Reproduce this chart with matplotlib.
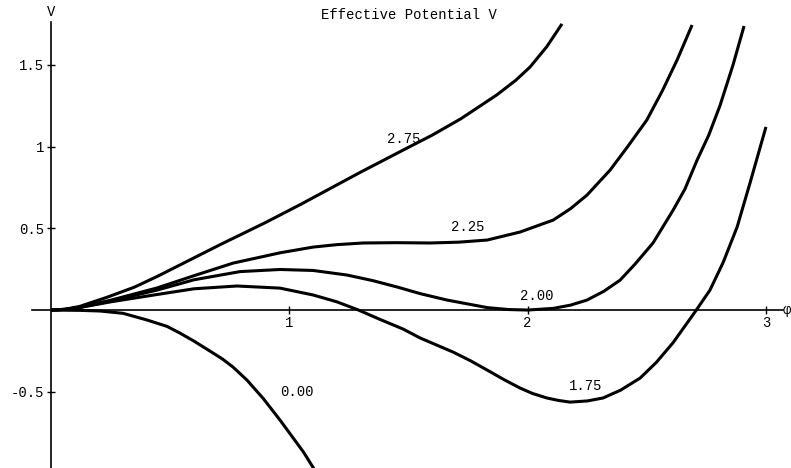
import matplotlib
matplotlib.use("Agg")
import matplotlib.pyplot as plt

plt.rcParams['font.family'] = ['Liberation Mono', 'DejaVu Sans Mono', 'DejaVu Sans']

# curves, phi vs V, one per parameter value
phi_275 = [0, 0.06, 0.12, 0.235, 0.35, 0.445, 0.71, 0.9, 1.05, 1.3, 1.48, 1.6, 1.72, 1.87,
           1.95, 2.01, 2.08, 2.144]
V_275 = [0, 0.005, 0.022, 0.078, 0.14, 0.205, 0.40, 0.535, 0.648, 0.844, 0.98, 1.07, 1.17, 1.315,
         1.405, 1.486, 1.61, 1.75]

phi_225 = [0, 0.06, 0.12, 0.25, 0.445, 0.6, 0.764, 0.961, 1.1, 1.2, 1.31, 1.45, 1.59, 1.71,
           1.83, 1.968, 2.107, 2.18, 2.249, 2.346, 2.42, 2.5, 2.565, 2.627, 2.69]
V_225 = [0, 0.004, 0.018, 0.06, 0.135, 0.21, 0.287, 0.35, 0.385, 0.40, 0.41, 0.412, 0.41, 0.415,
         0.428, 0.477, 0.55, 0.62, 0.703, 0.856, 1.0, 1.162, 1.34, 1.529, 1.743]

phi_200 = [0, 0.06, 0.12, 0.25, 0.445, 0.6, 0.793, 0.961, 1.1, 1.242, 1.35, 1.452, 1.55, 1.662,
           1.83, 1.92, 2.0, 2.107, 2.18, 2.249, 2.32, 2.388, 2.45, 2.526, 2.61, 2.66, 2.711,
           2.76, 2.807, 2.862, 2.908]
V_200 = [0, 0.004, 0.016, 0.055, 0.122, 0.185, 0.235, 0.248, 0.242, 0.214, 0.18, 0.141, 0.10, 0.061,
         0.015, 0.003, 0, 0.01, 0.03, 0.061, 0.115, 0.183, 0.28, 0.41, 0.61, 0.74, 0.917,
         1.07, 1.25, 1.5, 1.737]

phi_175 = [0, 0.06, 0.12, 0.25, 0.445, 0.6, 0.78, 0.961, 1.1, 1.2, 1.29, 1.38, 1.477, 1.549,
           1.687, 1.76, 1.83, 1.9, 1.968, 2.02, 2.081, 2.13, 2.178, 2.25, 2.316, 2.39, 2.472,
           2.54, 2.61, 2.703, 2.765, 2.82, 2.879, 2.933, 3.0]
V_175 = [0, 0.004, 0.015, 0.05, 0.095, 0.13, 0.147, 0.134, 0.092, 0.05, 0, -0.057, -0.116, -0.171,
         -0.257, -0.31, -0.367, -0.425, -0.477, -0.51, -0.538, -0.553, -0.563, -0.556, -0.538, -0.49, -0.416,
         -0.32, -0.20, -0.01, 0.122, 0.29, 0.508, 0.777, 1.12]

phi_000 = [0, 0.122, 0.206, 0.302, 0.403, 0.487, 0.541, 0.6, 0.68, 0.72, 0.764, 0.822, 0.89,
           0.961, 1.03, 1.06, 1.12]
V_000 = [0, -0.002, -0.006, -0.02, -0.061, -0.10, -0.141, -0.19, -0.263, -0.30, -0.349, -0.428, -0.54,
         -0.673, -0.81, -0.87, -1.01]

curve_labels = ['2.75', '2.25', '2.00', '1.75', '0.00']
label_phi = [1.48, 1.75, 2.04, 2.245, 1.03]
label_V = [1.045, 0.505, 0.085, -0.465, -0.50]

x_ticks = [1, 2, 3]
y_ticks = [-0.5, 0.5, 1, 1.5]
y_ticklabels = ['-0.5', '0.5', '1', '1.5']

fig = plt.figure(figsize=(7.91, 4.68), dpi=100)
ax = fig.add_axes([0, 0, 1, 1])
ax.patch.set_visible(False)

for p, v in [(phi_275, V_275), (phi_225, V_225), (phi_200, V_200),
             (phi_175, V_175), (phi_000, V_000)]:
    ax.plot(p, v, color='black', lw=2.2, solid_capstyle='butt', solid_joinstyle='round')

for t, x, y in zip(curve_labels, label_phi, label_V):
    ax.text(x, y, t, ha='center', va='center', fontsize=10)

ax.set_xlim(-0.214, 3.105)
ax.set_ylim(-0.966, 1.896)

ax.spines['right'].set_visible(False)
ax.spines['top'].set_visible(False)
ax.spines['left'].set_position(('data', 0))
ax.spines['bottom'].set_position(('data', 0))
ax.spines['left'].set_bounds(-0.966, 1.76)
ax.spines['bottom'].set_bounds(-0.08, 3.072)
ax.spines['left'].set_linewidth(1.2)
ax.spines['bottom'].set_linewidth(1.2)

ax.set_xticks(x_ticks)
ax.set_xticklabels([str(t) for t in x_ticks])
ax.set_yticks(y_ticks)
ax.set_yticklabels(y_ticklabels)
ax.tick_params(direction='inout', length=6, width=1, labelsize=10)
ax.tick_params(axis='x', pad=1)
ax.tick_params(axis='y', pad=2)

ax.text(1.502, 1.804, 'Effective Potential V', ha='center', va='center', fontsize=10)
ax.text(0, 1.823, 'V', ha='center', va='center', fontsize=10)
ax.text(3.103, 0, 'φ', ha='right', va='center', fontsize=10)

fig.savefig('out.png', dpi=100)
